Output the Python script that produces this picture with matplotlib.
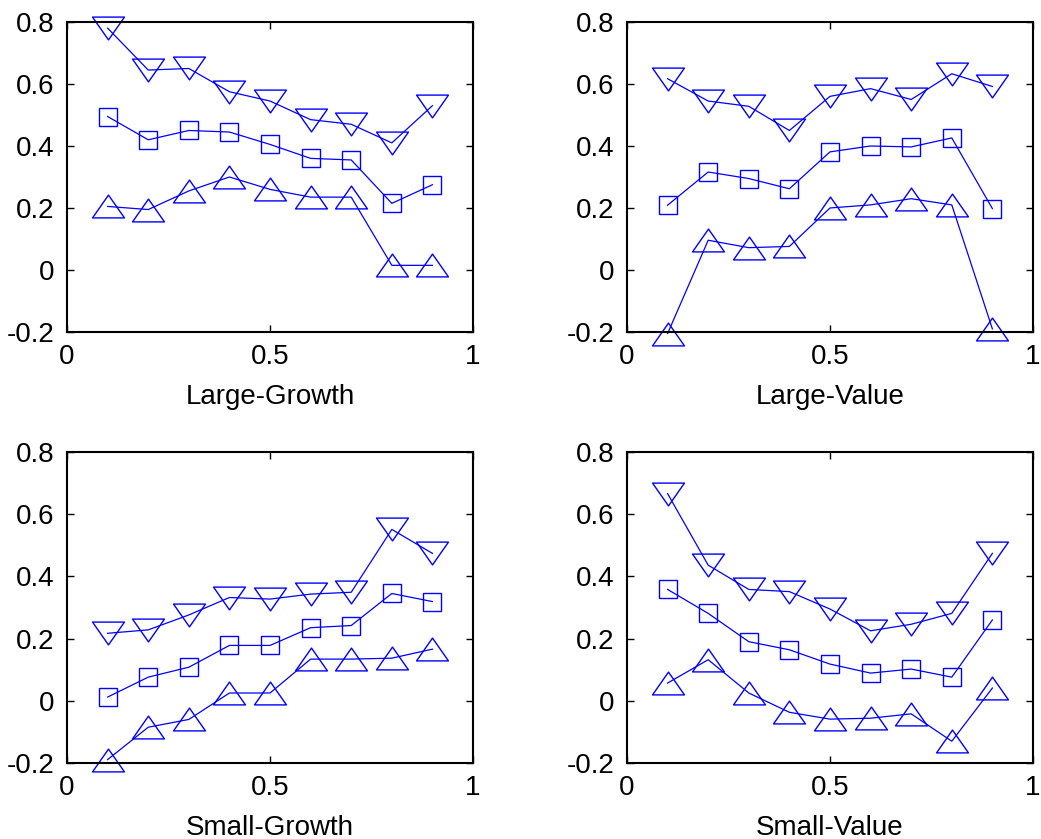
import matplotlib
matplotlib.use("Agg")
import matplotlib.pyplot as plt
import numpy as np
from matplotlib.path import Path

plt.rcParams["font.family"] = ["Liberation Sans", "DejaVu Sans"]
plt.rcParams["axes.unicode_minus"] = False

# x positions shared by every panel
quantiles = [0.1, 0.2, 0.3, 0.4, 0.5, 0.6, 0.7, 0.8, 0.9]

panel_names = ["Large-Growth", "Large-Value", "Small-Growth", "Small-Value"]

# upper curve (down triangles)
upper_lg = [0.78, 0.645, 0.65, 0.575, 0.545, 0.485, 0.47, 0.41, 0.53]
upper_lv = [0.617, 0.545, 0.528, 0.45, 0.56, 0.585, 0.55, 0.633, 0.592]
upper_sg = [0.217, 0.228, 0.276, 0.332, 0.327, 0.343, 0.349, 0.551, 0.474]
upper_sv = [0.666, 0.436, 0.358, 0.351, 0.295, 0.225, 0.246, 0.281, 0.474]

# middle curve (squares)
mid_lg = [0.495, 0.42, 0.45, 0.445, 0.405, 0.36, 0.355, 0.215, 0.275]
mid_lv = [0.209, 0.316, 0.295, 0.262, 0.381, 0.40, 0.397, 0.426, 0.198]
mid_sg = [0.012, 0.076, 0.108, 0.178, 0.178, 0.235, 0.242, 0.345, 0.319]
mid_sv = [0.358, 0.281, 0.19, 0.164, 0.118, 0.089, 0.102, 0.076, 0.26]

# lower curve (up triangles)
lower_lg = [0.205, 0.195, 0.255, 0.30, 0.26, 0.235, 0.235, 0.015, 0.015]
lower_lv = [-0.205, 0.096, 0.072, 0.076, 0.20, 0.21, 0.23, 0.21, -0.19]
lower_sg = [-0.189, -0.085, -0.06, 0.025, 0.025, 0.134, 0.134, 0.137, 0.166]
lower_sv = [0.057, 0.132, 0.025, -0.037, -0.059, -0.056, -0.042, -0.13, 0.041]

panels = [
    (upper_lg, mid_lg, lower_lg),
    (upper_lv, mid_lv, lower_lv),
    (upper_sg, mid_sg, lower_sg),
    (upper_sv, mid_sv, lower_sv),
]

# wide matlab-style triangles
tri_down = Path([(-1.4, 1), (1.4, 1), (0, -1), (-1.4, 1)],
                [Path.MOVETO, Path.LINETO, Path.LINETO, Path.CLOSEPOLY])
tri_up = Path([(-1.4, -1), (1.4, -1), (0, 1), (-1.4, -1)],
              [Path.MOVETO, Path.LINETO, Path.LINETO, Path.CLOSEPOLY])

blue = "#0000ff"
fig = plt.figure(figsize=(10.41, 8.39), dpi=100)

boxes = [
    (0.0644, 0.6043, 0.390, 0.3695),
    (0.6023, 0.6043, 0.390, 0.3695),
    (0.0644, 0.0906, 0.390, 0.3707),
    (0.6023, 0.0906, 0.390, 0.3707),
]

for box, name, (upper, mid, lower) in zip(boxes, panel_names, panels):
    ax = fig.add_axes(box)
    ax.plot(quantiles, upper, color=blue, lw=0.9, marker=tri_down, ms=23,
            mfc="none", mec=blue, mew=1.0, clip_on=False)
    ax.plot(quantiles, mid, color=blue, lw=0.9, marker="s", ms=13.5,
            mfc="none", mec=blue, mew=1.0, clip_on=False)
    ax.plot(quantiles, lower, color=blue, lw=0.9, marker=tri_up, ms=23,
            mfc="none", mec=blue, mew=1.0, clip_on=False)
    ax.set_xlim(0, 1)
    ax.set_ylim(-0.2, 0.8)
    ax.set_xticks([0, 0.5, 1])
    ax.set_xticklabels(["0", "0.5", "1"])
    ax.set_yticks([-0.2, 0, 0.2, 0.4, 0.6, 0.8])
    ax.set_yticklabels(["-0.2", "0", "0.2", "0.4", "0.6", "0.8"])
    ax.tick_params(direction="in", length=5, width=1, top=True, right=True,
                   labelsize=20, pad=9)
    for sp in ax.spines.values():
        sp.set_linewidth(1.5)
    ax.set_xlabel(name, fontsize=20, labelpad=10)

fig.savefig("out.png", dpi=100)
